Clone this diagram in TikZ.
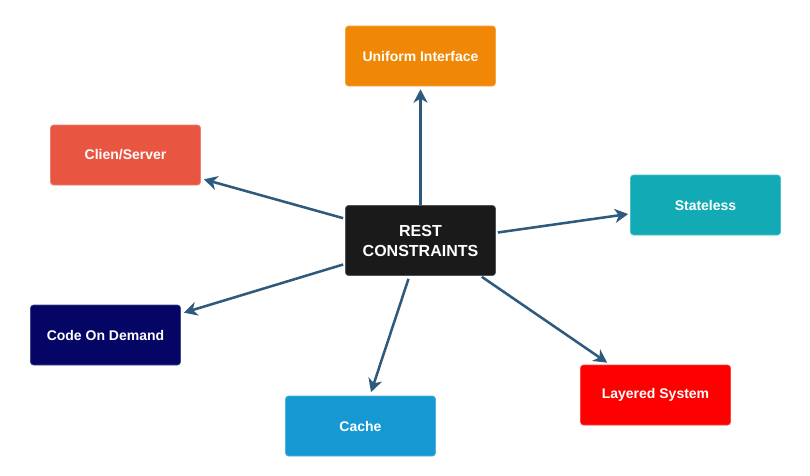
\documentclass[tikz,border=0pt]{standalone}
\usepackage{fontspec}
\setmainfont{Liberation Sans}
\usetikzlibrary{arrows.meta,calc}
\definecolor{arrowc}{HTML}{2E5A7E}
\definecolor{cOrange}{HTML}{F08705}
\definecolor{cRed}{HTML}{E85642}
\definecolor{cTeal}{HTML}{12AAB5}
\definecolor{cNavy}{HTML}{050566}
\definecolor{cBlue}{HTML}{1699D3}
\definecolor{cBright}{HTML}{FF0000}
\definecolor{cDark}{HTML}{1A1A1A}
\tikzset{
  box/.style={rectangle, rounded corners=2.25pt, minimum width=112.5pt, minimum height=45pt,
    inner sep=0pt, text=white, font=\fontsize{10.5}{13}\selectfont\bfseries, line width=0.5pt},
  centerbox/.style={box, minimum height=52.5pt, align=center, font=\fontsize{12}{15}\selectfont\bfseries},
  conn/.style={draw=arrowc, line width=1.9pt, -{Stealth[length=10pt,width=10.5pt,inset=3pt]}}
}
\begin{document}
\begin{tikzpicture}[x=0.75pt,y=-0.75pt]
\useasboundingbox (0,0) rectangle (810,475);
\node[box, fill=cOrange, draw=cOrange!75!white] (ui) at (420.5,56) {Uniform Interface};
\node[box, fill=cRed, draw=cRed!75!white] (cs) at (125.5,155) {Clien/Server};
\node[box, fill=cTeal, draw=cTeal!75!white] (st) at (705.5,205) {Stateless};
\node[centerbox, fill=cDark, draw=cDark!75!white] (rest) at (420.5,240.5) {REST\\CONSTRAINTS};
\node[box, fill=cNavy, draw=cNavy!75!white] (cod) at (105.5,335) {Code On Demand};
\node[box, fill=cBlue, draw=cBlue!75!white] (cache) at (360.5,426) {Cache};
\node[box, fill=cBright, draw=cBright!75!white] (ls) at (655.5,395) {Layered System};

\draw[conn] (rest.north) -- ($(ui.south)+(0,3)$);
\draw[conn] ($(rest.north west)+(-2,13)$) -- ($(cs.south east)+(3,-6)$);
\draw[conn] ($(rest.east)+(2,-8)$) -- ($(st.west)+(-2,9)$);
\draw[conn] ($(rest.west)+(-2,24)$) -- ($(cod.north east)+(3,8)$);
\draw[conn] ($(rest.south)+(-12,3)$) -- ($(cache.north)+(10.5,-3.5)$);
\draw[conn] ($(rest.south east)+(-14,1)$) -- ($(ls.north west)+(27,-2)$);
\end{tikzpicture}
\end{document}
